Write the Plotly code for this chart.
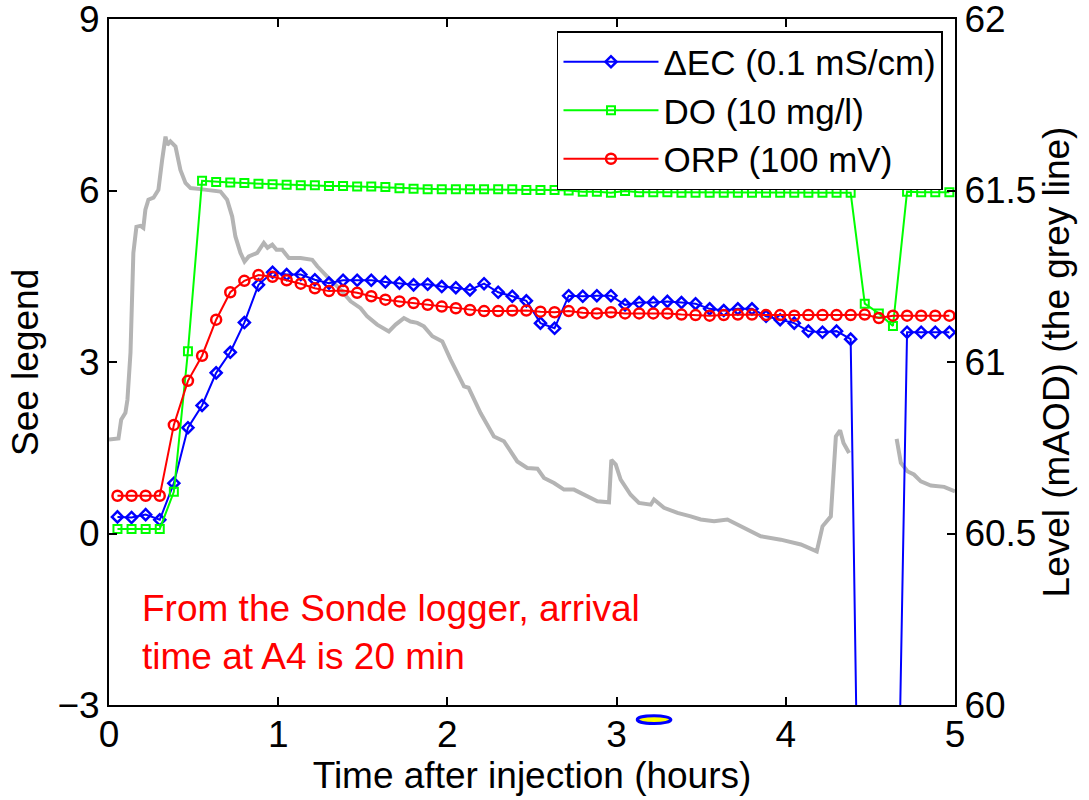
import plotly.graph_objects as go

# ---- data -------------------------------------------------------------
time_min = [3, 8, 13, 18, 23, 28, 33, 38, 43, 48,
            53, 58, 63, 68, 73, 78, 83, 88, 93, 98,
            103, 108, 113, 118, 123, 128, 133, 138, 143, 148,
            153, 158, 163, 168, 173, 178, 183, 188, 193, 198,
            203, 208, 213, 218, 223, 228, 233, 238, 243, 248,
            253, 258, 263, 268, 273, 278, 283, 288, 293, 298]
time_h = [m / 60 for m in time_min]

dec = [0.29, 0.28, 0.33, 0.24, 0.88, 1.85, 2.24, 2.81, 3.17, 3.69,
       4.35, 4.57, 4.53, 4.53, 4.44, 4.38, 4.43, 4.43, 4.43, 4.40,
       4.38, 4.35, 4.36, 4.32, 4.30, 4.26, 4.37, 4.22, 4.15, 4.07,
       3.68, 3.59, 4.16, 4.15, 4.16, 4.16, 4.00, 4.04, 4.04, 4.06,
       4.04, 4.02, 3.93, 3.90, 3.93, 3.93, 3.80, 3.74, 3.68, 3.54,
       3.52, 3.54, 3.40, -13.0, -12.0, -10.0, 3.52, 3.52, 3.52, 3.52]

do = [0.08, 0.08, 0.08, 0.08, 0.73, 3.19, 6.17, 6.15, 6.14, 6.13,
      6.12, 6.11, 6.10, 6.09, 6.09, 6.08, 6.08, 6.07, 6.07, 6.06,
      6.04, 6.03, 6.02, 6.02, 6.02, 6.02, 6.02, 6.02, 6.02, 6.01,
      6.01, 6.01, 6.00, 5.98, 5.98, 5.96, 5.99, 5.97, 5.97, 5.97,
      5.96, 5.96, 5.96, 5.96, 5.96, 5.96, 5.96, 5.96, 5.96, 5.96,
      5.96, 5.96, 5.96, 4.02, 3.85, 3.63, 5.98, 5.97, 5.97, 5.97]

orp = [0.66, 0.66, 0.66, 0.66, 1.90, 2.67, 3.11, 3.74, 4.22, 4.42,
       4.52, 4.49, 4.43, 4.37, 4.29, 4.24, 4.25, 4.21, 4.15, 4.09,
       4.06, 4.03, 4.00, 3.97, 3.94, 3.91, 3.89, 3.89, 3.90, 3.90,
       3.88, 3.87, 3.89, 3.86, 3.85, 3.87, 3.85, 3.85, 3.85, 3.85,
       3.83, 3.82, 3.81, 3.82, 3.83, 3.83, 3.82, 3.82, 3.81, 3.82,
       3.82, 3.82, 3.82, 3.83, 3.77, 3.81, 3.81, 3.81, 3.81, 3.81]

level_t = [0.000, 0.056, 0.072, 0.097, 0.109, 0.127, 0.144, 0.162, 0.186, 0.203,
           0.215, 0.233, 0.263, 0.292, 0.314, 0.334, 0.345, 0.363, 0.393, 0.422,
           0.452, 0.482, 0.540, 0.619, 0.659, 0.698, 0.728, 0.747, 0.777, 0.801,
           0.826, 0.876, 0.915, 0.937, 0.965, 0.990, 1.024, 1.063, 1.132, 1.201,
           1.231, 1.290, 1.368, 1.428, 1.487, 1.526, 1.585, 1.654, 1.694, 1.743,
           1.782, 1.822, 1.861, 1.911, 1.970, 2.019, 2.098, 2.125, 2.196, 2.275,
           2.334, 2.413, 2.472, 2.532, 2.571, 2.630, 2.689, 2.748, 2.807, 2.886,
           2.955, 2.969, 2.995, 3.024, 3.083, 3.132, 3.202, 3.221, 3.280, 3.360,
           3.438, 3.497, 3.576, 3.655, 3.734, 3.852, 3.970, 4.089, 4.183, 4.217,
           4.266, 4.286, 4.296, 4.321, 4.341, 4.374, 4.500, 4.655, 4.680, 4.720,
           4.757, 4.798, 4.857, 4.936, 5.000]
level = [60.774, 60.777, 60.832, 60.852, 60.890, 61.027, 61.318, 61.394, 61.397, 61.391,
         61.444, 61.473, 61.479, 61.502, 61.589, 61.657, 61.633, 61.643, 61.628, 61.560,
         61.522, 61.507, 61.504, 61.500, 61.497, 61.473, 61.424, 61.366, 61.318, 61.293,
         61.308, 61.318, 61.347, 61.333, 61.342, 61.327, 61.327, 61.303, 61.303, 61.298,
         61.279, 61.249, 61.211, 61.177, 61.157, 61.133, 61.109, 61.089, 61.109, 61.128,
         61.118, 61.114, 61.104, 61.075, 61.060, 61.007, 60.929, 60.925, 60.851, 60.783,
         60.769, 60.710, 60.691, 60.689, 60.662, 60.647, 60.628, 60.628, 60.613, 60.594,
         60.591, 60.715, 60.701, 60.657, 60.613, 60.589, 60.584, 60.599, 60.575, 60.560,
         60.550, 60.541, 60.536, 60.541, 60.521, 60.492, 60.482, 60.468, 60.448, 60.521,
         60.550, 60.696, 60.783, 60.801, 60.764, 60.735, None, 60.776, 60.706, 60.681,
         60.672, 60.652, 60.640, 60.636, 60.623]

left_ticks = [-3, 0, 3, 6, 9]
right_ticks = [60, 60.5, 61, 61.5, 62]
x_ticks = [0, 1, 2, 3, 4, 5]

FONT = "Liberation Sans, Arial, Helvetica, sans-serif"
FS = 37

fig = go.Figure()

# grey water level (primary y axis, drawn on the right, behind the others)
fig.add_trace(go.Scatter(
    x=level_t, y=level, mode="lines", yaxis="y",
    line=dict(color="#b4b4b4", width=4), showlegend=False,
    connectgaps=False, hoverinfo="skip"))

fig.add_trace(go.Scatter(
    x=time_h, y=dec, mode="lines+markers", yaxis="y2",
    name="ΔEC (0.1 mS/cm)",
    line=dict(color="#0000ff", width=2),
    marker=dict(symbol="diamond-open", size=8.5, color="#0000ff",
                line=dict(width=2.5, color="#0000ff"))))

fig.add_trace(go.Scatter(
    x=time_h, y=do, mode="lines+markers", yaxis="y2",
    name="DO (10 mg/l)",
    line=dict(color="#00ff00", width=2),
    marker=dict(symbol="square-open", size=8, color="#00ff00",
                line=dict(width=2, color="#00ff00"))))

fig.add_trace(go.Scatter(
    x=time_h, y=orp, mode="lines+markers", yaxis="y2",
    name="ORP (100 mV)",
    line=dict(color="#ff0000", width=2),
    marker=dict(symbol="circle-open", size=10, color="#ff0000",
                line=dict(width=2.5, color="#ff0000"))))

axis_common = dict(showgrid=False, zeroline=False, showline=True,
                   linecolor="black", linewidth=2, ticks="inside",
                   ticklen=8, tickwidth=1.5, tickcolor="black",
                   ticklabeloverflow="allow", automargin=False,
                   tickfont=dict(family=FONT, size=FS, color="black"))

fig.update_layout(
    width=1089, height=800,
    margin=dict(l=109, r=134, t=19, b=95),
    paper_bgcolor="white", plot_bgcolor="white",
    font=dict(family=FONT, size=FS, color="black"),
    xaxis=dict(range=[0, 5], tickvals=x_ticks, mirror="ticks",
               ticklabelstandoff=-4,
               title=dict(text="Time after injection (hours)",
                          font=dict(family=FONT, size=FS), standoff=0),
               **axis_common),
    yaxis=dict(range=[60, 62], tickvals=right_ticks, side="right",
               ticktext=[str(v) for v in right_ticks],
               title=dict(text="Level (mAOD) (the grey line)",
                          font=dict(family=FONT, size=FS), standoff=4),
               **axis_common),
    yaxis2=dict(range=[-3, 9], tickvals=left_ticks, side="left",
                overlaying="y",
                **axis_common),
    legend=dict(x=0.9858, xanchor="right", y=0.9825, yanchor="top",
                bgcolor="white", bordercolor="black", borderwidth=1.5,
                font=dict(family=FONT, size=35, color="black"),
                itemwidth=95, tracegroupgap=0),
    showlegend=True,
)

# left axis title
fig.add_annotation(
    xref="paper", yref="paper", x=-0.0993, y=0.5,
    xanchor="center", yanchor="middle", showarrow=False, textangle=-90,
    text="See legend", font=dict(family=FONT, size=FS, color="black"))

fig.add_annotation(
    xref="paper", yref="paper", x=0.0366, y=0.105,
    xanchor="left", yanchor="middle", align="left", showarrow=False,
    text="From the Sonde logger, arrival<br>time at A4 is 20 min",
    font=dict(family=FONT, size=FS, color="#ff0000"))

fig.add_shape(type="circle", xref="x", yref="paper",
              x0=3.122, x1=3.321, y0=-0.027, y1=-0.0157,
              fillcolor="#ffff00", line=dict(color="#0000ff", width=3),
              layer="above")

fig.write_html("out.html")
